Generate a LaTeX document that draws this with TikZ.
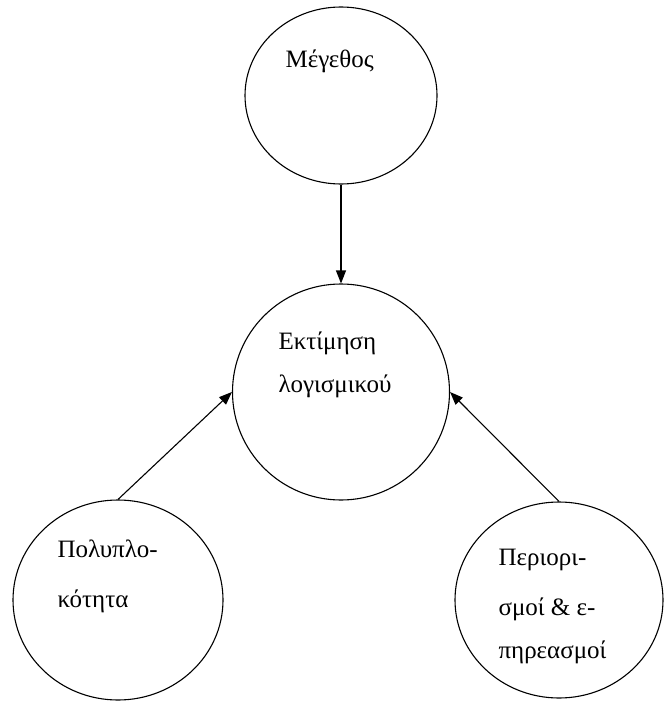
\documentclass[tikz,border=0pt]{standalone}
\usepackage{fontspec}
\setmainfont{Liberation Serif}
\usetikzlibrary{shapes.geometric,arrows.meta}
\tikzset{
  bubble/.style={ellipse,draw,line width=1.1pt,inner sep=0pt},
  lbl/.style={anchor=base west,inner sep=0pt,font=\fontsize{25}{30}\selectfont}
}
\begin{document}
\begin{tikzpicture}[x=1pt,y=-1pt,>={Triangle[length=13pt,width=10pt]},line width=1.1pt]
	\useasboundingbox (0,0) rectangle (665,701);
	\node[bubble,minimum width=192pt,minimum height=177pt] (size) at (341,95.5) {};
	\node[bubble,minimum width=217pt,minimum height=216pt] (estim) at (341,392) {};
	\node[bubble,minimum width=210pt,minimum height=200pt] (compl) at (118,600) {};
	\node[bubble,minimum width=208pt,minimum height=196pt] (limit) at (559,600) {};
	\draw[->] (size.south)--(estim.north);
	\draw[->] (compl.north)--(estim.west);
	\draw[->] (limit.north)--(estim.east);
	\node[lbl] (tsize) at (285,67) {Μέγεθος};
	\node[lbl] (testa) at (278,349) {Εκτίμηση};
	\node[lbl] (testb) at (278,392) {λογισμικού};
	\node[lbl] (tcompa) at (57,557) {Πολυπλο-};
	\node[lbl] (tcompb) at (57,607) {κότητα};
	\node[lbl] (tlima) at (498,565) {Περιορι-};
	\node[lbl] (tlimb) at (498,615) {σμοί \& ε-};
	\node[lbl] (tlimc) at (498,658) {πηρεασμοί};
\end{tikzpicture}
\end{document}
